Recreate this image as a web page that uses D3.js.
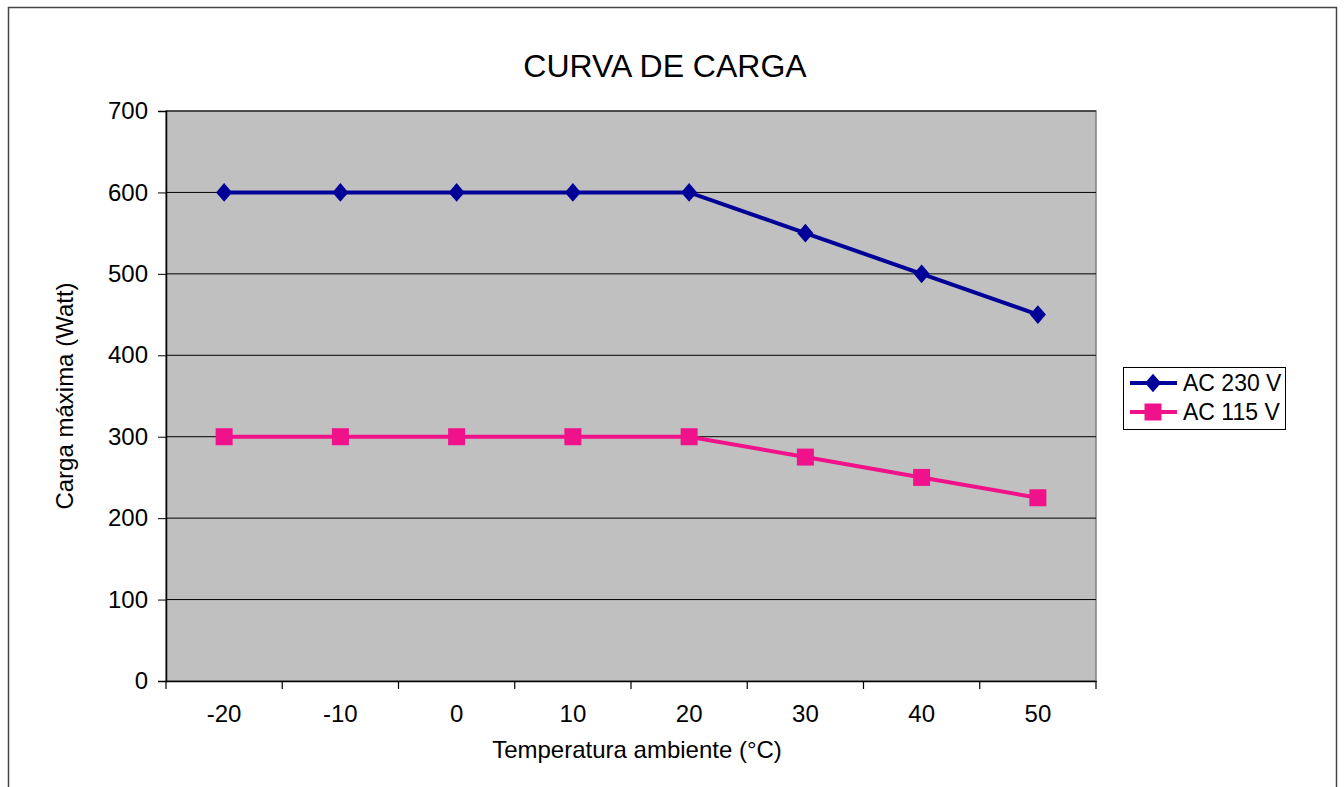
<!DOCTYPE html>
<html>
<head>
<meta charset="utf-8">
<script src="https://cdn.jsdelivr.net/npm/d3@7"></script>
<style>
  body { margin: 0; background: #fff; }
  svg { font-family: "Liberation Sans", Arial, sans-serif; }
</style>
</head>
<body>
<svg id="chart" width="1344" height="787"></svg>
<script>
const temps = [-20, -10, 0, 10, 20, 30, 40, 50];
const ac230 = [600, 600, 600, 600, 600, 550, 500, 450];
const ac115 = [300, 300, 300, 300, 300, 275, 250, 225];
const yTicks = [0, 100, 200, 300, 400, 500, 600, 700];
const seriesNames = ["AC 230 V", "AC 115 V"];

const svg = d3.select("#chart");

// outer frame
svg.append("rect")
    .attr("x", 8.5).attr("y", 7.5)
    .attr("width", 1328).attr("height", 800)
    .attr("fill", "#fff").attr("stroke", "#444").attr("stroke-width", 1.5);

const plotL = 166, plotT = 111, plotR = 1096, plotB = 681;

const x = d3.scaleBand().domain(temps).range([plotL, plotR]);
const y = d3.scaleLinear().domain([0, 700]).range([plotB, plotT]);

svg.append("rect")
    .attr("x", plotL).attr("y", plotT)
    .attr("width", plotR - plotL).attr("height", plotB - plotT)
    .attr("fill", "#c0c0c0")
    .attr("stroke", "#808080").attr("stroke-width", 1.5);

// gridlines
svg.append("g").selectAll("line")
    .data(yTicks.filter(d => d > 0))
    .enter().append("line")
    .attr("x1", plotL).attr("x2", plotR)
    .attr("y1", d => y(d)).attr("y2", d => y(d))
    .attr("stroke", "#000").attr("stroke-width", 1);

// y axis
const yAxis = svg.append("g")
    .attr("transform", `translate(${plotL},0)`)
    .call(d3.axisLeft(y).tickValues(yTicks).tickSize(8).tickPadding(10));
yAxis.select(".domain").attr("stroke", "#000").attr("stroke-width", 1.5);
yAxis.selectAll("text").attr("font-size", 24).attr("fill", "#000")
    .attr("font-family", "Liberation Sans, Arial, sans-serif");

// x axis: ticks between categories
const xAxis = svg.append("g")
    .attr("transform", `translate(0,${plotB})`)
    .call(d3.axisBottom(x).tickSize(0).tickPadding(24));
xAxis.select(".domain").attr("stroke", "#000").attr("stroke-width", 1.5);
xAxis.selectAll("text").attr("font-size", 24).attr("fill", "#000")
    .attr("font-family", "Liberation Sans, Arial, sans-serif");
const bounds = temps.map(t => x(t)).concat([plotR]);
xAxis.selectAll(".sep").data(bounds).enter().append("line")
    .attr("x1", d => d).attr("x2", d => d)
    .attr("y1", 0).attr("y2", 8)
    .attr("stroke", "#000").attr("stroke-width", 1.2);

const cx = t => x(t) + x.bandwidth() / 2;

const series = [
    { name: seriesNames[0], values: ac230, color: "#000099", shape: d3.symbolDiamond, size: 100, sx: 1.5 },
    { name: seriesNames[1], values: ac115, color: "#f0128a", shape: d3.symbolSquare, size: 289, sx: 1 }
];

const line = d3.line().x((d, i) => cx(temps[i])).y(d => y(d));

series.forEach(s => {
    svg.append("path")
        .datum(s.values)
        .attr("d", line)
        .attr("fill", "none")
        .attr("stroke", s.color)
        .attr("stroke-width", 4);
    svg.append("g").selectAll("path")
        .data(s.values)
        .enter().append("path")
        .attr("transform", (d, i) => `translate(${cx(temps[i])},${y(d)}) scale(${s.sx},1)`)
        .attr("d", d3.symbol().type(s.shape).size(s.size))
        .attr("fill", s.color);
});

// title
svg.append("text")
    .attr("x", 665).attr("y", 77)
    .attr("text-anchor", "middle")
    .attr("font-size", 32)
    .text("CURVA DE CARGA");

// axis titles
svg.append("text")
    .attr("x", 637).attr("y", 758)
    .attr("text-anchor", "middle")
    .attr("font-size", 24)
    .text("Temperatura ambiente (°C)");

svg.append("text")
    .attr("transform", `translate(73,${(plotT + plotB) / 2}) rotate(-90)`)
    .attr("text-anchor", "middle")
    .attr("font-size", 24)
    .text("Carga máxima (Watt)");

// legend
const lg = svg.append("g").attr("transform", "translate(1123,367)");
lg.append("rect")
    .attr("x", 0.5).attr("y", 0.5).attr("width", 162).attr("height", 62)
    .attr("fill", "#fff").attr("stroke", "#000").attr("stroke-width", 1);
series.forEach((s, i) => {
    const ly = 16 + i * 29;
    lg.append("line")
        .attr("x1", 7).attr("x2", 54).attr("y1", ly).attr("y2", ly)
        .attr("stroke", s.color).attr("stroke-width", 4);
    lg.append("path")
        .attr("transform", `translate(30,${ly}) scale(${s.sx},1)`)
        .attr("d", d3.symbol().type(s.shape).size(s.size))
        .attr("fill", s.color);
    lg.append("text")
        .attr("x", 60).attr("y", ly + 8)
        .attr("font-size", 23)
        .text(s.name);
});
</script>
</body>
</html>
